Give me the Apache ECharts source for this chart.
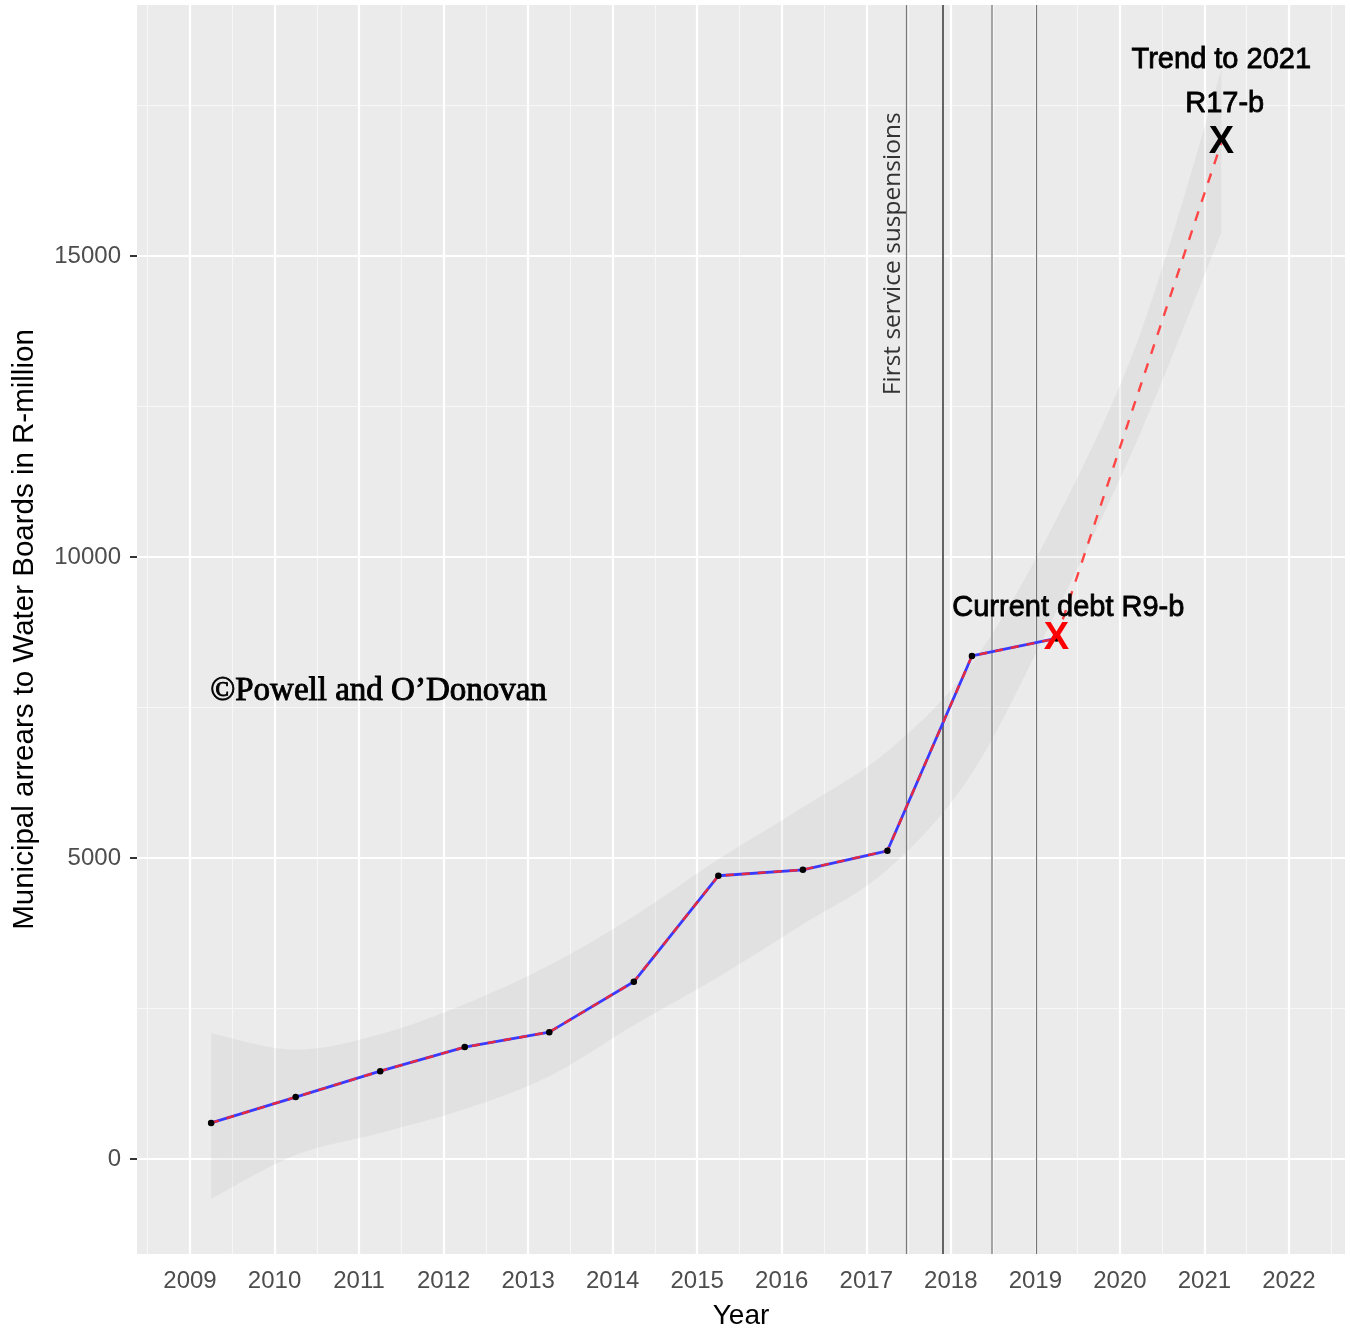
<!DOCTYPE html>
<html>
<head>
<meta charset="utf-8">
<script src="https://cdn.jsdelivr.net/npm/echarts@6/dist/echarts.min.js"></script>
<style>
  html, body { margin: 0; padding: 0; background: #ffffff; }
  #chart { width: 1350px; height: 1335px; }
</style>
</head>
<body>
<div id="chart"></div>
<script>
// ---- data ----
const years   = [2009.25, 2010.25, 2011.25, 2012.25, 2013.25, 2014.25, 2015.25, 2016.25, 2017.25, 2018.25, 2019.25];
const arrears = [600, 1029, 1460, 1859, 2108, 2944, 4705, 4804, 5120, 8356, 8646];

const trendYears  = [2019.25, 2021.2];
const trendValues = [8646, 16880];

const ribbonYears = [2009.25, 2010.25, 2011.25, 2012.25, 2013.25, 2014.25, 2015.25, 2016.25, 2017.25, 2018.25, 2019.25, 2020.25, 2021.2];
const ribbonUpper = [2091, 1817, 2074, 2572, 3219, 4033, 4978, 5841, 6771, 8231, 10627, 13741, 18089];
const ribbonLower = [-664, 66, 431, 830, 1377, 2224, 3025, 3900, 4803, 6406, 9102, 12081, 15384];

const eventLines  = [2017.47, 2017.9, 2018.48, 2019.01];
const eventColors = ['#7a7a7a', '#555555', '#9c9c9c', '#767676'];
const eventWidths = [1.2, 1.8, 1.8, 1.2];

const xTicks = [2009, 2010, 2011, 2012, 2013, 2014, 2015, 2016, 2017, 2018, 2019, 2020, 2021, 2022];
const xMinor = [2008.5, 2009.5, 2010.5, 2011.5, 2012.5, 2013.5, 2014.5, 2015.5, 2016.5, 2017.5, 2018.5, 2019.5, 2020.5, 2021.5, 2022.5];
const yTicks = [0, 5000, 10000, 15000];
const yMinor = [2500, 7500, 12500, 17500];
const xRange = [2008.373, 2022.663];
const yRange = [-1577, 19167];

const markerPoints = [[2019.25, 8646], [2021.2, 16880]];
const markerColors = ['#ff0000', '#000000'];

const textLabels = ['Current debt R9-b', 'Trend to 2021', 'R17-b'];
const textPositions = [[2019.39, 9160], [2021.2, 18255], [2021.24, 17524]];
const creditText = '\u00A9Powell and O\u2019Donovan';
const creditPos = [2011.23, 7770];
const eventText = 'First service suspensions';
const eventTextPos = [2017.32, 15035];

// ---- chart ----
const chart = echarts.init(document.getElementById('chart'), null, { renderer: 'canvas' });

const gridLines = [];
xMinor.forEach(v => gridLines.push({ xAxis: v, lineStyle: { color: '#f7f7f7', width: 1.1, type: 'solid' } }));
yMinor.forEach(v => gridLines.push({ yAxis: v, lineStyle: { color: '#f7f7f7', width: 1.1, type: 'solid' } }));
xTicks.forEach(v => gridLines.push({ xAxis: v, lineStyle: { color: '#ffffff', width: 2.2, type: 'solid' } }));
yTicks.forEach(v => gridLines.push({ yAxis: v, lineStyle: { color: '#ffffff', width: 2.2, type: 'solid' } }));

const vLines = eventLines.map((v, i) => ({ xAxis: v, lineStyle: { color: eventColors[i], width: eventWidths[i], type: 'solid' } }));

const mainData  = years.map((x, i) => [x, arrears[i]]);
const trendData = trendYears.map((x, i) => [x, trendValues[i]]);

// smooth path through pixel points (Catmull-Rom -> cubic Bezier)
function smoothSegments(pts, t) {
  let d = '';
  for (let i = 0; i < pts.length - 1; i++) {
    const p0 = pts[Math.max(0, i - 1)], p1 = pts[i], p2 = pts[i + 1], p3 = pts[Math.min(pts.length - 1, i + 2)];
    const c1 = [p1[0] + (p2[0] - p0[0]) * t, p1[1] + (p2[1] - p0[1]) * t];
    const c2 = [p2[0] - (p3[0] - p1[0]) * t, p2[1] - (p3[1] - p1[1]) * t];
    d += ' C' + c1[0] + ',' + c1[1] + ' ' + c2[0] + ',' + c2[1] + ' ' + p2[0] + ',' + p2[1];
  }
  return d;
}

function renderRibbon(params, api) {
  if (params.dataIndex !== 0) return;
  const up = ribbonYears.map((x, i) => api.coord([x, ribbonUpper[i]]));
  const lo = ribbonYears.map((x, i) => api.coord([x, ribbonLower[i]])).reverse();
  let d = 'M' + up[0][0] + ',' + up[0][1] + smoothSegments(up, 1 / 6);
  d += ' L' + lo[0][0] + ',' + lo[0][1] + smoothSegments(lo, 1 / 6) + ' Z';
  return {
    type: 'path',
    shape: { pathData: d },
    style: { fill: 'rgba(153,153,153,0.12)', stroke: null }
  };
}

const labelFont = 'Liberation Sans, Arial, Helvetica, sans-serif';

const option = {
  animation: false,
  grid: { left: 137, right: 5, top: 5, bottom: 80, show: true, backgroundColor: '#EBEBEB', borderWidth: 0 },
  xAxis: {
    type: 'value', min: xRange[0], max: xRange[1],
    name: 'Year', nameLocation: 'middle', nameGap: 48,
    nameTextStyle: { fontSize: 28, color: '#000', fontFamily: labelFont },
    axisLine: { show: false },
    axisTick: { show: true, customValues: xTicks, length: 7, lineStyle: { color: '#333', width: 2 } },
    axisLabel: { customValues: xTicks, fontSize: 24, color: '#4d4d4d', fontFamily: labelFont, margin: 15, formatter: v => String(v) },
    splitLine: { show: false }
  },
  yAxis: {
    type: 'value', min: yRange[0], max: yRange[1],
    name: 'Municipal arrears to Water Boards in R-million', nameLocation: 'middle', nameGap: 97,
    nameTextStyle: { fontSize: 29.5, color: '#000', fontFamily: labelFont },
    axisLine: { show: false },
    axisTick: { show: true, customValues: yTicks, length: 7, lineStyle: { color: '#333', width: 2 } },
    axisLabel: { customValues: yTicks, fontSize: 24, color: '#4d4d4d', fontFamily: labelFont, margin: 16, formatter: v => String(v) },
    splitLine: { show: false }
  },
  series: [
    { // background grid lines
      type: 'line', data: [], symbol: 'none', silent: true, z: 1,
      markLine: { silent: true, symbol: ['none', 'none'], label: { show: false }, z: 1, animation: false, data: gridLines }
    },
    { // event vertical lines
      type: 'line', data: [], symbol: 'none', silent: true, z: 2,
      markLine: { silent: true, symbol: ['none', 'none'], label: { show: false }, z: 2, animation: false, data: vLines }
    },
    { // confidence ribbon
      type: 'custom', renderItem: renderRibbon, silent: true, z: 3, clip: true,
      data: [[ribbonYears[0], ribbonLower[0]]]
    },
    { // blue solid line
      type: 'line', data: mainData, symbol: 'none', z: 4,
      lineStyle: { color: '#3a3aff', width: 2.8 }
    },
    { // red dashed overlay
      type: 'line', data: mainData, symbol: 'none', z: 5,
      lineStyle: { color: '#e8283c', width: 2.4, type: [8, 8] }
    },
    { // trend projection
      type: 'line', data: trendData, symbol: 'none', z: 5,
      lineStyle: { color: '#ff4545', width: 2.4, type: [10, 10] }
    },
    { // points
      type: 'scatter', data: mainData, symbol: 'circle', symbolSize: 6.5, z: 6,
      itemStyle: { color: '#000', opacity: 1 }
    },
    { // X markers
      type: 'scatter', symbolSize: 1, z: 8,
      itemStyle: { color: 'rgba(0,0,0,0)', opacity: 1 },
      data: markerPoints.map((p, i) => ({
        value: p,
        label: { show: true, position: 'inside', formatter: 'X', fontSize: 38, fontWeight: 'bold',
                 fontFamily: labelFont, color: markerColors[i] }
      }))
    },
    { // annotation texts
      type: 'scatter', symbolSize: 1, z: 9,
      itemStyle: { color: 'rgba(0,0,0,0)', opacity: 1 },
      data: textLabels.map((t, i) => ({
        value: textPositions[i],
        label: { show: true, position: 'inside', formatter: t, fontSize: 29, fontFamily: labelFont, color: '#000',
                 textBorderColor: '#000', textBorderWidth: 0.8 }
      })).concat([
        { value: creditPos,
          label: { show: true, position: 'inside', formatter: creditText, fontSize: 33,
                   fontFamily: 'Liberation Serif, Times New Roman, serif', color: '#000',
                   textBorderColor: '#000', textBorderWidth: 0.9 } },
        { value: eventTextPos,
          label: { show: true, position: 'inside', formatter: eventText, fontSize: 24.5, rotate: 90,
                   fontFamily: 'Open Sans, DejaVu Sans, sans-serif', color: '#333' } }
      ])
    }
  ]
};

chart.setOption(option);
</script>
</body>
</html>
